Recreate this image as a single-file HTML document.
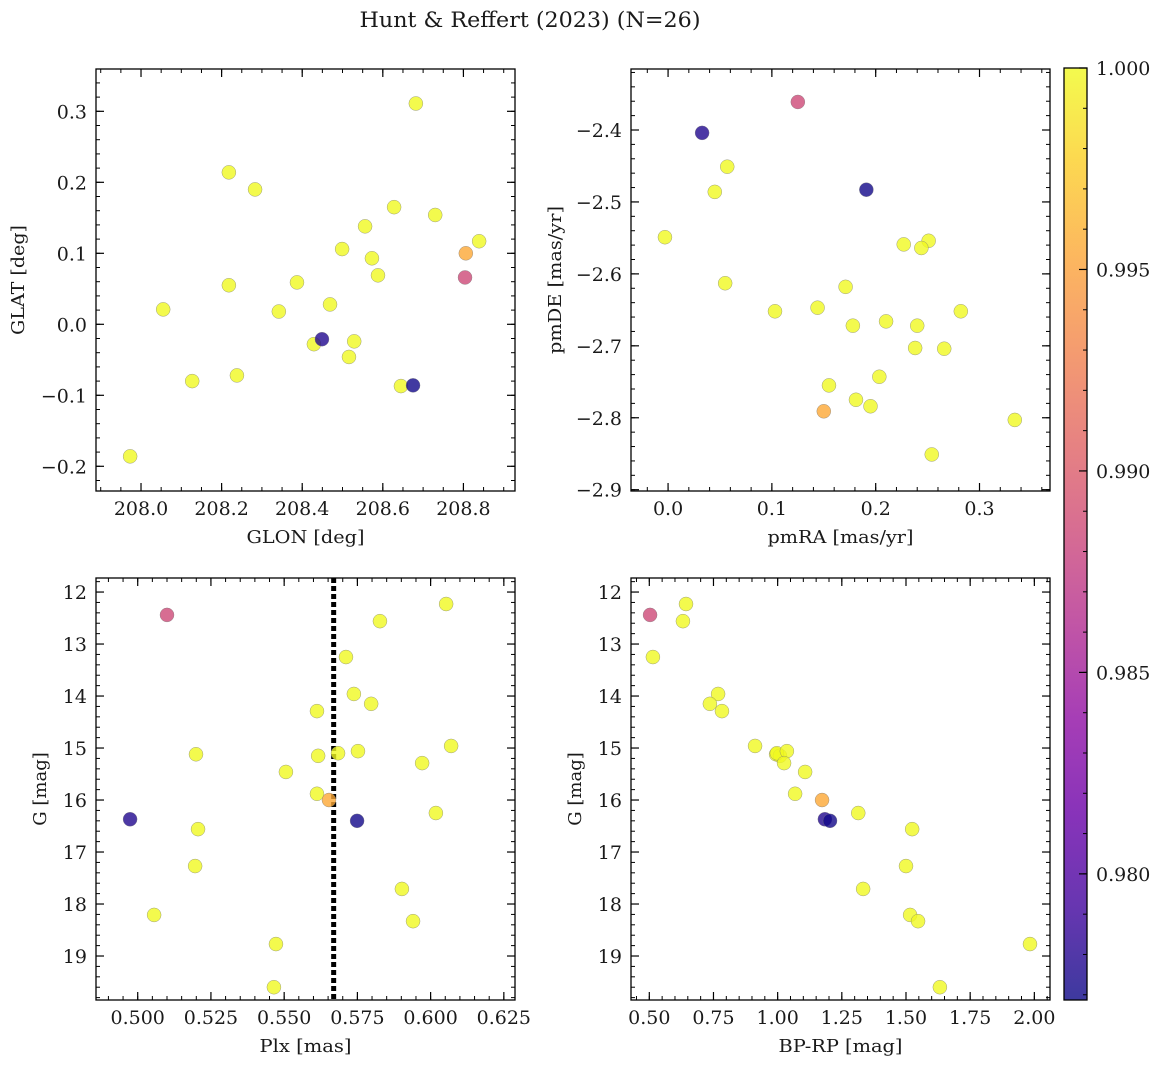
<!DOCTYPE html>
<html><head><meta charset="utf-8">
<style>
html,body{margin:0;padding:0;background:#fff;}
svg text{font-family:"DejaVu Serif","Liberation Serif",serif;fill:#1a1a1a;}
</style></head>
<body>
<svg id="fig" width="1161" height="1068" viewBox="0 0 1161 1068" xmlns="http://www.w3.org/2000/svg">
<text x="530" y="27" font-size="21" text-anchor="middle" textLength="341" lengthAdjust="spacingAndGlyphs">Hunt &amp; Reffert (2023) (N=26)</text>
</svg>
<script>
const NS='http://www.w3.org/2000/svg';
const svg=document.getElementById('fig');
// membership probability per star
const prob=[1,1,1,1,1,1,1,1,1,0.9777,1,1,1,1,1,1,1,1,1,1,0.9771,1,1,0.9955,0.9885,1];
const glon=[207.973,208.055,208.127,208.218,208.218,208.238,208.283,208.342,208.387,208.449,208.429,208.469,208.499,208.516,208.529,208.556,208.573,208.588,208.628,208.645,208.675,208.682,208.730,208.806,208.804,208.839];
const glat=[-0.186,0.021,-0.080,0.214,0.055,-0.072,0.190,0.018,0.059,-0.021,-0.028,0.028,0.106,-0.046,-0.024,0.138,0.093,0.069,0.165,-0.087,-0.086,0.311,0.154,0.100,0.066,0.117];
const pmra=[-0.003,0.057,0.045,0.055,0.103,0.144,0.171,0.227,0.251,0.0328,0.244,0.178,0.210,0.240,0.282,0.238,0.266,0.155,0.2035,0.181,0.191,0.195,0.334,0.150,0.125,0.254];
const pmde=[-2.549,-2.451,-2.486,-2.613,-2.652,-2.647,-2.618,-2.559,-2.554,-2.404,-2.564,-2.672,-2.666,-2.672,-2.652,-2.703,-2.704,-2.755,-2.743,-2.775,-2.483,-2.784,-2.803,-2.791,-2.361,-2.851];
const plx=[0.6053,0.5827,0.5711,0.5738,0.5797,0.5612,0.5199,0.5616,0.5684,0.4974,0.5752,0.6070,0.5506,0.5971,0.5612,0.6018,0.5206,0.5196,0.5902,0.5056,0.5749,0.5940,0.5472,0.5653,0.5100,0.5465];
const gmag=[12.23,12.56,13.25,13.96,14.15,14.29,15.12,15.15,15.10,16.37,15.06,14.96,15.46,15.29,15.88,16.25,16.56,17.27,17.71,18.21,16.40,18.33,18.77,16.00,12.44,19.60];
const bprp=[0.643,0.631,0.514,0.768,0.736,0.783,0.994,1.009,0.997,1.184,1.036,0.912,1.107,1.025,1.068,1.314,1.524,1.500,1.333,1.516,1.204,1.547,1.983,1.173,0.503,1.632];
const plxLine=0.5669;
const cbTicks=[0.980,0.985,0.990,0.995,1.000];
const vmin=0.97687, vmax=1.0;

const stops=['#0d0887','#41049d','#6a00a8','#8f0da4','#b12a90','#cc4778','#e16462','#f2844b','#fca636','#fcce25','#f0f921'];
function hex(h){return [1,3,5].map(i=>parseInt(h.substr(i,2),16));}
function plasma(t){t=Math.max(0,Math.min(1,t));const f=t*10,i=Math.min(9,Math.floor(f)),u=f-i;const a=hex(stops[i]),b=hex(stops[i+1]);return 'rgb('+a.map((v,k)=>Math.round(v+(b[k]-v)*u)).join(',')+')';}
function el(tag,attrs,parent){const e=document.createElementNS(NS,tag);for(const k in attrs)e.setAttribute(k,attrs[k]);(parent||svg).appendChild(e);return e;}
function fmt(v,d){let s=v.toFixed(d);return s.replace('-','\u2212');}
const FS=19;
function tlen(s){let w=0;for(const c of s){w+= c==='.'?0.318:(c==='\u2212'?0.838:0.636);}return w*FS;}
function tickText(parent,x,y,s,anchor,name){
  const t=el('text',{x:x,y:y,'font-size':FS,'text-anchor':anchor,textLength:tlen(s).toFixed(1),lengthAdjust:'spacingAndGlyphs'},parent);
  t.textContent=s;
  
  
  return t;
}

function panel(o){
  const g=el('g',{});
  
  
  const sx=v=>o.x0+(v-o.xmin)/(o.xmax-o.xmin)*(o.x1-o.x0);
  const sy=o.inv?(v=>o.y0+(v-o.ymin)/(o.ymax-o.ymin)*(o.y1-o.y0)):(v=>o.y1-(v-o.ymin)/(o.ymax-o.ymin)*(o.y1-o.y0));
  const eps=1e-9;
  const nx0=Math.ceil(o.xmin/o.xminor-eps),nx1=Math.floor(o.xmax/o.xminor+eps);
  for(let n=nx0;n<=nx1;n++){const x=sx(n*o.xminor);
    el('line',{x1:x,x2:x,y1:o.y1,y2:o.y1-4,stroke:'#000','stroke-width':1},g);
    el('line',{x1:x,x2:x,y1:o.y0,y2:o.y0+4,stroke:'#000','stroke-width':1},g);}
  const ylo=Math.min(o.ymin,o.ymax),yhi=Math.max(o.ymin,o.ymax);
  const ny0=Math.ceil(ylo/o.yminor-eps),ny1=Math.floor(yhi/o.yminor+eps);
  for(let n=ny0;n<=ny1;n++){const y=sy(n*o.yminor);
    el('line',{x1:o.x0,x2:o.x0+4,y1:y,y2:y,stroke:'#000','stroke-width':1},g);
    el('line',{x1:o.x1,x2:o.x1-4,y1:y,y2:y,stroke:'#000','stroke-width':1},g);}
  o.xt.forEach(v=>{const x=sx(v);
    el('line',{x1:x,x2:x,y1:o.y1,y2:o.y1-8,stroke:'#000','stroke-width':1.2},g);
    el('line',{x1:x,x2:x,y1:o.y0,y2:o.y0+8,stroke:'#000','stroke-width':1.2},g);
    tickText(g,x,o.y1+24,fmt(v,o.xd),'middle','x-tick-label');});
  o.yt.forEach(v=>{const y=sy(v);
    el('line',{x1:o.x0,x2:o.x0+8,y1:y,y2:y,stroke:'#000','stroke-width':1.2},g);
    el('line',{x1:o.x1,x2:o.x1-8,y1:y,y2:y,stroke:'#000','stroke-width':1.2},g);
    tickText(g,o.x0-9,y+7,fmt(v,o.yd),'end','y-tick-label');});
  const xl=el('text',{x:(o.x0+o.x1)/2,y:o.y1+52,'font-size':18,'text-anchor':'middle',textLength:o.xlw,lengthAdjust:'spacingAndGlyphs'},g);xl.textContent=o.xlabel;
  
  
  const yx=o.ylx,yy=(o.y0+o.y1)/2;
  const ya={x:yx,y:yy,'font-size':18,'text-anchor':'middle',transform:'rotate(-90 '+yx+' '+yy+')'};
  if(o.ylw){ya.textLength=o.ylw;ya.lengthAdjust='spacingAndGlyphs';}
  const yl=el('text',ya,g);yl.textContent=o.ylabel;
  
  
  if(o.vline!==undefined){const x=sx(o.vline);
    const l=el('line',{x1:x,x2:x,y1:o.y0,y2:o.y1,stroke:'#000','stroke-width':5,'stroke-dasharray':'5 3'},g);
    
    }
  const idx=o.xs.map((_,i)=>i).sort((a,b)=>prob[b]-prob[a]);
  idx.forEach(i=>{
    const c=el('circle',{cx:sx(o.xs[i]),cy:sy(o.ys[i]),r:7,fill:plasma((prob[i]-vmin)/(vmax-vmin)),'fill-opacity':0.8,stroke:'#777','stroke-width':0.5,'stroke-opacity':0.7},g);
    
    });
  el('rect',{x:o.x0,y:o.y0,width:o.x1-o.x0,height:o.y1-o.y0,fill:'none',stroke:'#000','stroke-width':1.3},g);
}

panel({name:'glon-glat-panel',x0:96,x1:515,y0:69,y1:491,xmin:207.8883,xmax:208.928,ymin:-0.2348,ymax:0.3596,
  xt:[208.0,208.2,208.4,208.6,208.8],xd:1,xminor:0.05,yt:[-0.2,-0.1,0.0,0.1,0.2,0.3],yd:1,yminor:0.02,
  xlabel:'GLON [deg]',xlw:118,ylabel:'GLAT [deg]',ylw:110,ylx:24,xs:glon,ys:glat});
panel({name:'proper-motion-panel',x0:631,x1:1050,y0:69,y1:491,xmin:-0.0357,xmax:0.3679,ymin:-2.9018,ymax:-2.3152,
  xt:[0.0,0.1,0.2,0.3],xd:1,xminor:0.02,yt:[-2.9,-2.8,-2.7,-2.6,-2.5,-2.4],yd:1,yminor:0.02,
  xlabel:'pmRA [mas/yr]',xlw:146,ylabel:'pmDE [mas/yr]',ylw:148,ylx:561,xs:pmra,ys:pmde});
panel({name:'parallax-magnitude-panel',x0:96,x1:515,y0:578,y1:1000,xmin:0.48576,xmax:0.62881,ymin:11.73,ymax:19.846,inv:true,
  xt:[0.500,0.525,0.550,0.575,0.600,0.625],xd:3,xminor:0.005,yt:[12,13,14,15,16,17,18,19],yd:0,yminor:0.2,
  xlabel:'Plx [mas]',xlw:92,ylabel:'G [mag]',ylx:46,xs:plx,ys:gmag,vline:plxLine});
panel({name:'color-magnitude-panel',x0:631,x1:1050,y0:578,y1:1000,xmin:0.4287,xmax:2.061,ymin:11.73,ymax:19.846,inv:true,
  xt:[0.50,0.75,1.00,1.25,1.50,1.75,2.00],xd:2,xminor:0.05,yt:[12,13,14,15,16,17,18,19],yd:0,yminor:0.2,
  xlabel:'BP-RP [mag]',xlw:124,ylabel:'G [mag]',ylx:581,xs:bprp,ys:gmag});

// colorbar
const cb=el('g',{});


const cx0=1064,cx1=1087,cy0=68,cy1=1000;
const defs=el('defs',{},cb);
const lg=el('linearGradient',{id:'cbg',x1:0,y1:1,x2:0,y2:0},defs);
for(let k=0;k<=20;k++){el('stop',{offset:(k/20),'stop-color':plasma(k/20),'stop-opacity':0.8},lg);}
el('rect',{x:cx0,y:cy0,width:cx1-cx0,height:cy1-cy0,fill:'url(#cbg)'},cb);
const cyv=v=>cy1-(v-vmin)/(vmax-vmin)*(cy1-cy0);
for(let n=977;n<=1000;n++){const y=cyv(n/1000);if(y<cy0-0.5||y>cy1)continue;
  el('line',{x1:cx1,x2:cx1-4,y1:y,y2:y,stroke:'#000','stroke-width':1},cb);}
cbTicks.forEach(v=>{const y=cyv(v);
  el('line',{x1:cx1,x2:cx1-8,y1:y,y2:y,stroke:'#000','stroke-width':1.2},cb);
  tickText(cb,cx1+9,y+7,v.toFixed(3),'start','colorbar-tick-label');});
el('rect',{x:cx0,y:cy0,width:cx1-cx0,height:cy1-cy0,fill:'none',stroke:'#000','stroke-width':1.3},cb);
</script>
</body></html>
